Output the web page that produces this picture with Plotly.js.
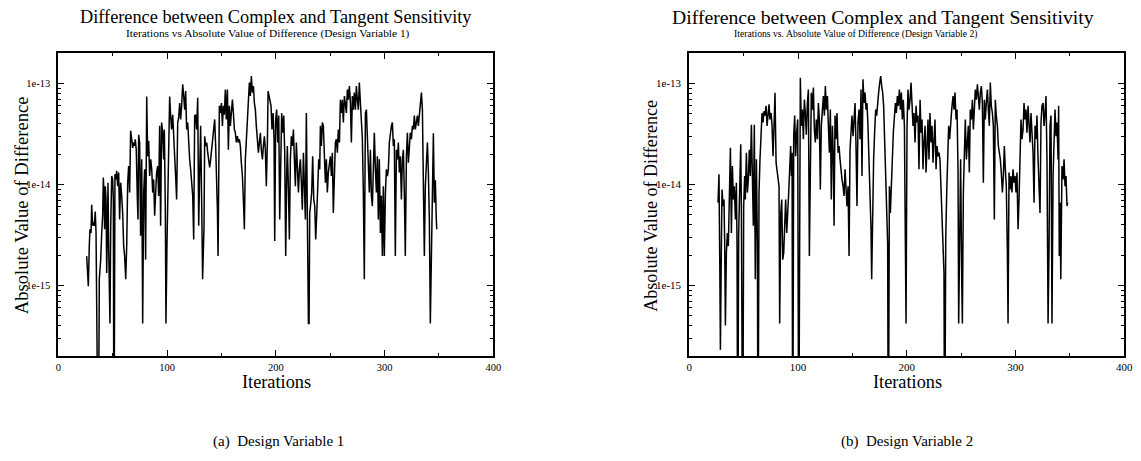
<!DOCTYPE html>
<html><head><meta charset="utf-8">
<script src="https://cdn.plot.ly/plotly-3.0.1.min.js"></script>
<style>html,body{margin:0;padding:0;background:#fff}#chart{width:1141px;height:461px}</style>
</head><body><div id="chart"></div>
<script>
// Design Variable 1: iteration and |complex - tangent| (1e-17 = value below the axis floor, i.e. ~0)
const iterDV1 = [
26.1,26.7,27.6,28.5,29.1,30.1,30.7,31.6,32.2,33.1,
34.0,34.7,35.3,36.0,36.8,37.7,39.0,39.9,40.8,41.4,
42.0,42.6,43.2,43.9,44.5,45.1,45.7,46.3,46.9,47.5,
48.2,49.1,50.0,50.6,51.2,52.1,53.1,53.7,54.6,55.5,
56.4,57.3,58.3,59.2,60.1,61.0,62.0,62.9,63.8,64.7,
65.6,66.5,67.5,68.4,69.0,69.9,70.8,71.7,72.7,73.3,
73.9,74.8,75.7,76.7,77.6,78.5,79.4,80.3,81.3,82.2,
83.1,84.0,85.0,85.9,86.8,87.7,88.6,89.5,90.4,91.4,
92.3,93.2,94.1,95.0,96.0,96.9,97.5,98.4,99.0,100.0,
100.9,101.8,102.4,103.3,104.2,105.2,106.1,107.0,107.9,108.8,
109.8,110.7,111.6,112.5,113.4,114.4,115.3,116.2,117.1,118.0,
119.0,119.9,120.8,121.7,122.6,123.6,124.5,125.4,126.3,127.2,
128.2,129.1,130.0,130.9,131.8,132.7,134.0,134.6,135.5,136.5,
137.4,138.3,139.2,140.1,141.1,142.0,142.9,143.8,144.7,145.7,
146.3,146.9,147.5,148.1,149.0,150.0,150.9,151.8,152.7,153.6,
154.5,155.5,156.4,157.3,158.2,159.1,160.1,161.0,161.9,162.8,
163.7,164.7,165.6,166.5,167.4,168.3,169.3,170.2,171.1,172.0,
173.0,173.9,174.8,175.7,176.6,177.5,178.5,179.4,180.3,181.2,
182.1,183.0,184.0,184.9,185.8,186.7,187.7,188.6,189.5,190.4,
191.3,192.3,192.9,193.8,194.7,195.6,196.5,197.5,198.4,199.0,
199.9,200.8,201.8,202.7,203.6,204.5,205.4,206.4,207.3,208.2,
209.1,210.0,210.6,211.6,212.5,213.4,214.3,215.2,216.2,217.1,
218.0,218.9,219.8,220.8,221.7,222.6,223.5,224.4,225.4,226.3,
227.2,228.1,229.0,230.0,230.6,231.2,232.1,233.0,233.9,234.9,
235.8,236.7,237.6,238.5,239.5,240.4,241.0,241.9,242.8,243.7,
244.7,245.6,246.5,247.4,248.3,249.3,250.2,251.1,252.0,252.9,
253.9,254.8,255.7,256.6,257.5,258.5,259.4,260.3,261.2,262.1,
263.1,264.0,264.9,265.8,266.7,267.7,268.6,269.5,270.4,271.3,
272.2,273.2,274.1,275.0,275.9,276.8,277.8,278.7,279.6,280.5,
281.4,282.4,283.3,284.2,285.1,286.0,287.0,287.9,288.8,289.7,
290.6,291.6,292.5,293.4,294.3,295.2,296.2,297.1,298.0,298.9,
299.8,300.8,301.7,302.6,303.5,304.4,305.3,306.3,307.2,308.1,
309.0,309.9,310.9,311.8,312.7,313.6,314.5,315.5,316.4,317.3,
318.2,319.1,320.1,321.0,321.9,322.8,323.7,324.7,325.6,326.5,
327.4,328.3,329.3,330.2,331.1,332.0,332.9,333.9,334.8,335.7,
336.6,337.5,338.5,339.4,340.3,341.2,342.1,343.1,344.0,344.9,
345.8,346.7,347.6,348.0];
const diffDV1 = [
1.95e-15,1.33e-15,9.8e-16,2.45e-15,3.6e-15,3.3e-15,6.3e-15,3.9e-15,4.2e-15,3.9e-15,
5.4e-15,3.3e-15,1.55e-15,4.2e-16,1e-17,1.15e-15,1.8e-15,3.3e-15,4.9e-15,1.17e-14,
8.3e-15,3.6e-15,9.6e-15,7.1e-15,1.33e-15,3.3e-15,1.04e-14,2.45e-15,1.15e-15,4.2e-16,
3.9e-15,1.21e-14,1.12e-14,7.1e-15,1e-17,1.26e-14,1.12e-14,1.36e-14,9.6e-15,1.31e-14,
4.5e-15,1.04e-14,7.7e-15,5.2e-15,2.45e-15,1.95e-15,1.15e-15,2.45e-15,1.04e-14,1.52e-14,
8.3e-15,3.4e-14,2.8e-14,2.3e-14,2.6e-14,2.4e-14,2.8e-14,2.2e-14,7.1e-15,4.5e-15,
3.1e-14,2.6e-14,3.1e-15,1.77e-14,4.2e-16,8.3e-15,1.41e-14,1.8e-15,7.4e-14,1.9e-14,
2.7e-14,1.21e-14,1.77e-14,1.41e-14,8.3e-15,1.12e-14,4.9e-15,8.9e-15,1.31e-14,1.52e-14,
7.7e-15,3.8e-14,3.9e-15,4.1e-14,3.25e-14,1.77e-14,3.5e-14,6.1e-15,4.2e-16,2.85e-15,
1.21e-14,2.4e-14,7.4e-14,4.8e-14,3.5e-14,4.9e-14,2.6e-14,1.9e-14,1.21e-14,7.1e-15,
4.1e-14,4.6e-14,6.4e-14,4.4e-14,6.0e-14,9.8e-14,7.5e-14,5.5e-14,8.4e-14,3.5e-14,
4.1e-14,2.2e-14,1.77e-14,1.41e-14,9.6e-15,7.7e-15,2.85e-15,4.8e-14,4.9e-14,3.5e-14,
7.2e-14,3.9e-15,1.31e-14,3.8e-14,7.1e-15,1.15e-15,3.9e-15,3.0e-14,2.4e-14,2.6e-14,
2.06e-14,1.77e-14,1.47e-14,1.77e-14,2.2e-14,2.8e-14,3.5e-14,4.4e-14,2.4e-14,1.04e-14,
5.6e-15,1.95e-15,2.06e-14,6.0e-14,5.1e-14,6.4e-14,3.8e-14,6.0e-14,4.9e-14,8.7e-14,
4.4e-14,8.7e-14,2.2e-14,6.0e-14,3.8e-14,5.5e-14,6.9e-14,5.1e-14,3.5e-14,3.25e-14,
2.6e-14,3.0e-14,2.6e-14,2.8e-14,2.4e-14,1.64e-14,1.21e-14,7.1e-15,3.6e-15,1.77e-14,
3.0e-14,5.5e-14,7.5e-14,1.02e-13,7.5e-14,1.18e-13,8.1e-14,9.4e-14,6.4e-14,5.5e-14,
3.8e-14,2.8e-14,2.06e-14,2.6e-14,3.25e-14,2.2e-14,1.77e-14,2.4e-14,3.0e-14,2.2e-14,
9.6e-15,2.8e-14,8.4e-14,7.5e-14,6.4e-14,6.0e-14,3.5e-14,5.1e-14,2.8e-14,2.75e-15,
4.4e-14,5.5e-14,2.6e-14,4.8e-14,4.5e-15,2.6e-14,5.1e-14,3.25e-14,4.8e-14,2.06e-14,
1.95e-15,1.21e-14,2.4e-14,8.9e-15,2.85e-15,1.77e-14,3.0e-14,2.4e-14,3.5e-14,1.77e-14,
9.6e-15,2.6e-14,1.41e-14,8.3e-15,1.41e-14,1.77e-14,1.04e-14,5.6e-15,2.06e-14,7.1e-15,
4.5e-15,5.1e-14,4.5e-15,4.2e-16,4.2e-16,5.2e-15,6.4e-15,8.3e-15,1.9e-14,7.1e-15,
6.1e-15,2.85e-15,4.9e-15,9.6e-15,1.77e-14,1.41e-14,3.8e-14,2.4e-14,4.1e-14,3.8e-14,
1.41e-14,1.04e-14,1.77e-14,8.3e-15,1.31e-14,1.64e-14,1.9e-14,1.21e-14,2.06e-14,5.2e-15,
1.77e-14,2.6e-14,2.8e-14,2.06e-14,3.5e-14,2.6e-14,6.9e-14,5.1e-14,6.9e-14,4.1e-14,
7.5e-14,6.4e-14,5.1e-14,8.7e-14,6.9e-14,9.4e-14,6.4e-14,2.6e-14,7.5e-14,5.5e-14,
8.1e-14,5.5e-14,9.4e-14,6.9e-14,5.5e-14,1.02e-13,6.4e-14,3.8e-14,2.8e-14,8.3e-15,
1.15e-15,5.1e-14,5.5e-14,3.0e-14,1.77e-14,8.3e-15,2.2e-14,7.7e-15,6.1e-15,2.06e-14,
3.25e-14,1.41e-14,8.3e-15,1.9e-14,4.5e-15,1.77e-14,3.3e-15,7.7e-15,1.95e-15,9.6e-15,
1.95e-15,8.3e-15,1.41e-14,1.21e-14,1.41e-14,2.6e-14,3.25e-14,3.8e-14,4.1e-14,2.4e-14,
2.8e-14,1.95e-15,2.2e-14,1.77e-14,2.6e-14,1.31e-14,1.9e-14,7.1e-15,1.77e-14,2.2e-14,
8.3e-15,1.95e-15,1.9e-14,3.25e-14,1.64e-14,2.4e-14,3.25e-14,2.8e-14,3.8e-14,3.5e-14,
4.8e-14,3.5e-14,4.1e-14,4.8e-14,3.8e-14,5.1e-14,6.0e-14,8.1e-14,5.5e-14,5.2e-15,
1.95e-15,9.6e-15,1.52e-14,2.6e-14,1.31e-14,4.5e-15,4.2e-16,1.95e-15,1.41e-14,3.2e-14,
6.6e-15,1.1e-14,4.5e-15,3.6e-15];

// Design Variable 2
const iterDV2 = [
26.4,27.3,28.0,28.6,29.5,30.1,31.0,31.9,32.5,33.2,
34.1,35.0,35.9,36.8,37.8,38.7,39.6,40.5,41.4,42.4,
43.3,43.9,44.5,45.4,46.3,47.3,47.9,48.5,49.1,50.0,
50.9,51.5,52.5,53.4,54.3,55.2,56.1,57.1,58.0,58.9,
59.8,60.7,61.7,62.6,63.2,64.1,65.0,66.0,66.9,67.8,
68.7,69.6,70.6,71.5,72.4,73.3,74.2,75.2,76.1,77.0,
77.9,78.8,79.8,80.7,81.6,82.5,83.1,84.1,85.0,85.9,
86.8,87.7,88.6,89.6,90.5,91.4,92.3,93.2,93.9,94.5,
95.1,96.0,96.9,97.8,98.7,99.7,100.6,101.4,102.1,103.0,
104.0,104.9,105.8,106.7,107.6,108.6,109.5,110.4,111.3,112.2,
113.2,114.1,115.0,115.9,116.8,117.8,118.7,119.6,120.5,121.4,
122.4,123.3,124.2,125.1,126.0,127.0,127.9,128.8,129.7,130.6,
131.6,132.5,133.1,134.0,134.9,135.8,136.8,137.7,138.6,139.5,
140.4,141.4,142.3,143.2,144.1,145.0,146.0,146.9,147.8,148.7,
149.6,150.6,151.5,152.4,153.3,154.2,155.1,156.1,157.0,157.9,
158.8,159.7,160.7,161.6,162.5,163.4,164.3,165.3,166.2,167.1,
167.7,168.6,169.5,170.5,171.4,172.3,173.2,174.1,175.1,176.0,
176.9,177.8,178.7,179.7,180.6,181.5,182.4,183.0,184.0,184.9,
185.8,186.7,187.6,188.6,189.5,190.4,191.3,192.2,193.2,194.1,
195.0,195.9,196.8,197.8,198.7,199.3,200.2,201.1,202.0,203.0,
203.9,204.8,205.7,206.6,207.6,208.5,209.4,210.3,211.2,212.2,
213.1,214.0,214.9,215.8,216.8,217.7,218.6,219.5,220.4,221.3,
222.3,223.2,224.1,225.0,225.9,226.9,227.8,228.7,229.6,230.5,
231.5,232.4,233.3,234.2,234.8,235.8,236.7,237.6,238.5,239.4,
240.4,241.3,242.5,243.4,244.3,245.3,246.2,247.1,247.7,248.6,
249.5,250.5,251.1,252.0,252.9,253.8,254.8,255.7,256.6,257.5,
258.4,259.4,260.3,261.2,262.1,263.0,264.0,264.9,265.8,266.7,
267.6,268.6,269.5,270.4,271.3,272.2,273.1,274.1,275.0,275.9,
276.8,277.7,278.7,279.6,280.5,281.4,282.3,283.3,284.2,285.1,
286.0,286.9,287.9,288.8,289.7,290.6,291.5,292.5,293.1,294.0,
294.9,295.8,296.7,297.7,298.6,299.5,300.4,301.3,302.3,303.2,
304.1,305.0,305.9,306.9,307.8,308.7,309.6,310.5,311.5,312.4,
313.3,314.2,315.1,316.1,317.0,317.9,318.8,319.7,320.7,321.6,
322.5,323.4,324.3,325.3,326.2,327.1,328.0,328.9,329.9,330.8,
331.7,332.6,333.5,334.5,335.4,336.3,337.2,338.1,339.1,339.6,
340.2,340.9,341.6,342.7,343.7,344.6,345.5,346.4,347.3,347.9];
const diffDV2 = [
6.6e-15,1.26e-14,1.8e-15,2.3e-16,2.45e-15,8.9e-15,6.1e-15,7.1e-15,2.85e-15,4.0e-16,
2.1e-15,3.3e-15,2.45e-15,6.1e-15,2.3e-14,3.3e-15,1.52e-14,7.1e-15,9.6e-15,4.5e-15,
1.04e-14,2.45e-15,1e-17,3.3e-15,8.3e-15,2.5e-14,5.6e-15,1.95e-15,1e-17,6.1e-15,
1.21e-14,7.1e-15,2.06e-14,8.3e-15,1.12e-14,2.2e-14,1.21e-14,3.9e-14,1.21e-14,3.9e-15,
3.9e-14,1.15e-15,1.77e-14,2.6e-15,1e-17,8.3e-15,1.77e-14,3.8e-14,5.1e-14,4.1e-14,
5.3e-14,4.8e-14,6.0e-14,3.8e-14,5.5e-14,6.2e-14,4.4e-14,5.1e-14,3.8e-14,1.9e-14,
3.8e-14,8.1e-14,1.64e-14,1.41e-14,1.12e-14,9.6e-15,4.2e-16,5.2e-15,7.1e-15,1.8e-15,
2.1e-15,5.6e-15,7.1e-15,3.3e-15,6.6e-15,8.3e-15,1.41e-14,2.4e-14,1.21e-14,2.06e-14,
1e-17,3.0e-14,4.8e-14,1.9e-14,3.25e-14,4.4e-14,1e-17,3.0e-14,1.14e-13,3.8e-14,
5.5e-14,2.8e-14,6.9e-14,5.1e-14,3.1e-14,6.4e-14,8.7e-14,1.95e-15,2.6e-14,8.1e-14,
5.5e-14,9.1e-14,3.5e-14,2.6e-14,4.4e-14,2.8e-14,6.4e-14,4.4e-14,8.9e-15,3.8e-14,
5.5e-14,7.5e-14,4.8e-14,9.4e-14,5.5e-14,7.5e-14,3.8e-14,2.06e-14,5.5e-14,7.1e-15,
3.8e-14,1.77e-14,3.9e-15,4.8e-14,2.8e-14,5.1e-14,2.06e-14,2.4e-14,1.77e-14,1.31e-14,
1.12e-14,9.6e-15,7.7e-15,1.41e-14,8.9e-15,6.1e-15,9.6e-15,1.95e-15,2.2e-14,3.5e-14,
4.8e-14,3.0e-14,5.1e-14,6.4e-14,2.4e-14,6.1e-15,4.1e-14,5.5e-14,2.8e-14,8.7e-14,
1.21e-14,1.10e-13,6.4e-14,8.1e-14,5.5e-14,6.4e-14,3.8e-14,1.77e-14,7.1e-15,3.6e-15,
1.15e-15,7.1e-15,1.77e-14,3.5e-14,5.5e-14,4.8e-14,6.9e-14,8.1e-14,1.02e-13,1.18e-13,
9.4e-14,8.1e-14,6.0e-14,2.8e-14,1.52e-14,6.1e-15,2.6e-15,1e-17,9.6e-15,5.2e-15,
1.21e-14,1.77e-14,3.25e-14,5.1e-14,6.4e-14,5.1e-14,7.5e-14,6.0e-14,8.7e-14,5.5e-14,
8.1e-14,4.4e-14,6.9e-14,3.8e-14,1.8e-15,4.2e-16,3.8e-14,8.7e-14,5.5e-14,6.9e-14,
1.02e-13,6.0e-14,3.8e-14,5.1e-14,2.6e-14,6.0e-14,4.1e-14,4.8e-14,1.41e-14,6.9e-14,
3.25e-14,4.4e-14,1.41e-14,2.6e-14,3.8e-14,1.31e-14,3.25e-14,4.4e-14,1.77e-14,5.1e-14,
2.6e-14,3.8e-14,1.64e-14,2.8e-14,4.4e-14,1.41e-14,2.4e-14,1.9e-14,2.06e-14,1.77e-14,
9.6e-15,5.2e-15,3.1e-15,1.33e-15,1e-17,2.85e-15,8.3e-15,2.4e-14,3.8e-14,2.8e-14,
4.4e-14,5.5e-14,7.5e-14,5.5e-14,8.1e-14,4.4e-14,5.5e-14,1.41e-14,4.2e-16,5.6e-15,
1.77e-14,1.15e-15,4.2e-16,8.3e-15,2.6e-14,4.4e-14,1.77e-14,3.25e-14,3.8e-14,1.31e-14,
5.5e-14,4.4e-14,6.9e-14,3.5e-14,6.4e-14,8.7e-14,6.9e-14,9.8e-14,7.5e-14,5.5e-14,
8.1e-14,9.4e-14,6.4e-14,1.04e-14,6.9e-14,4.4e-14,6.4e-14,8.7e-14,5.5e-14,3.8e-14,
1.02e-13,6.0e-14,5.1e-14,3.8e-14,4.5e-15,6.9e-14,4.8e-14,3.8e-14,2.4e-14,2.06e-14,
1.77e-14,1.31e-14,8.3e-15,1.21e-14,2.4e-14,1.41e-14,9.6e-15,2.1e-15,4.2e-16,1.31e-14,
8.9e-15,1.21e-14,8.3e-15,1.41e-14,1.04e-14,1.21e-14,8.3e-15,1.31e-14,3.6e-15,7.1e-15,
2.06e-14,4.4e-14,2.8e-14,3.5e-14,6.4e-14,4.4e-14,5.5e-14,3.25e-14,6.0e-14,3.8e-14,
2.6e-14,5.1e-14,3.5e-14,2.06e-14,6.6e-15,3.8e-14,2.8e-14,4.8e-14,1.77e-14,1.12e-14,
5.2e-15,4.1e-14,6.0e-14,6.4e-14,3.8e-14,5.1e-14,7.5e-14,1.77e-14,4.2e-16,2.45e-15,
3.8e-14,4.8e-14,4.2e-16,1.21e-14,2.6e-14,5.5e-14,3.0e-14,4.1e-14,1.77e-14,6.0e-14,
1.95e-15,6.6e-15,1.15e-15,1.52e-14,1.12e-14,1.77e-14,9.6e-15,1.21e-14,6.1e-15,6.6e-15];

const xTickVals = [0, 100, 200, 300, 400];
const xTickText = ['0', '100', '200', '300', '400'];
const xMinorVals = [50, 150, 250, 350];
const yTickVals = [1e-15, 1e-14, 1e-13];
const yTickText = ['1e-15', '1e-14', '1e-13'];
const yMinorVals = [];
[1e-16, 1e-15, 1e-14, 1e-13].forEach(function (d) {
  for (var k = 2; k <= 9; k++) yMinorVals.push(k * d);
});

const titleText = 'Difference between Complex and Tangent Sensitivity';
const subTitle1 = 'Iterations vs Absolute Value of Difference (Design Variable 1)';
const subTitle2 = 'Iterations vs. Absolute Value of Difference (Design Variable 2)';
const yTitle = 'Absolute Value of Difference';
const xTitle = 'Iterations';
const caption1 = '(a)  Design Variable 1';
const caption2 = '(b)  Design Variable 2';

const SERIF = 'Liberation Serif, Times New Roman, serif';
const W = 1141, H = 461;
function px(x) { return x / W; }
function py(y) { return 1 - y / H; }

function xAxis(domain, anchor, fs) {
  return {
    domain: domain, anchor: anchor, range: [0, 400],
    tickmode: 'array', tickvals: xTickVals, ticktext: xTickText,
    ticks: 'inside', ticklen: 6, tickwidth: 1, tickcolor: '#000',
    mirror: 'allticks', showline: true, linewidth: 2, linecolor: '#000',
    showgrid: false, zeroline: false,
    tickfont: { family: SERIF, size: fs, color: '#000' },
    minor: { tickmode: 'array', tickvals: xMinorVals, ticks: 'inside', ticklen: 3, tickwidth: 1, tickcolor: '#000', showgrid: false }
  };
}
function yAxis(domain, anchor, fs) {
  return {
    domain: domain, anchor: anchor, type: 'log',
    range: [Math.log10(2e-16), Math.log10(2e-13)],
    tickmode: 'array', tickvals: yTickVals, ticktext: yTickText,
    ticks: 'inside', ticklen: 6, tickwidth: 1, tickcolor: '#000',
    mirror: 'allticks', showline: true, linewidth: 2, linecolor: '#000',
    showgrid: false, zeroline: false, ticklabelstandoff: 4,
    tickfont: { family: SERIF, size: fs, color: '#000' },
    minor: { tickmode: 'array', tickvals: yMinorVals, ticks: 'inside', ticklen: 3, tickwidth: 1, tickcolor: '#000', showgrid: false }
  };
}

const yDom = [py(356), py(53)];
const layout = {
  width: W, height: H,
  margin: { l: 0, r: 0, t: 0, b: 0 },
  paper_bgcolor: '#fff', plot_bgcolor: '#fff',
  showlegend: false, hovermode: false,
  font: { family: SERIF, color: '#000' },
  xaxis: xAxis([px(58.3), px(493.3)], 'y', 10.5),
  yaxis: yAxis(yDom, 'x', 10.5),
  xaxis2: xAxis([px(689.3), px(1124.3)], 'y2', 11),
  yaxis2: yAxis(yDom, 'x2', 11),
  annotations: [
    { text: titleText, x: px(275.5), y: py(17.5), font: { family: SERIF, size: 18.3 } },
    { text: titleText, x: px(882.5), y: py(17), font: { family: SERIF, size: 19.7 } },
    { text: subTitle1, x: px(267.5), y: py(33.5), font: { family: SERIF, size: 11.4 } },
    { text: subTitle2, x: px(855), y: py(33.5), font: { family: SERIF, size: 9.7 } },
    { text: yTitle, x: px(21.7), y: py(205.5), textangle: -90, font: { family: SERIF, size: 18.6 } },
    { text: yTitle, x: px(651), y: py(205.8), textangle: -90, font: { family: SERIF, size: 18.1 } },
    { text: xTitle, x: px(276.3), y: py(382), font: { family: SERIF, size: 18.3 } },
    { text: xTitle, x: px(907), y: py(382), font: { family: SERIF, size: 18.3 } },
    { text: caption1, x: px(278), y: py(441), font: { family: SERIF, size: 15 } },
    { text: caption2, x: px(907), y: py(441), font: { family: SERIF, size: 15 } }
  ].map(function (a) {
    return Object.assign({ xref: 'paper', yref: 'paper', showarrow: false, xanchor: 'center', yanchor: 'middle', borderpad: 0 }, a);
  })
};

const traces = [
  { type: 'scatter', mode: 'lines', x: iterDV1, y: diffDV1, xaxis: 'x', yaxis: 'y',
    line: { color: '#000', width: 1.5 }, name: 'Design Variable 1' },
  { type: 'scatter', mode: 'lines', x: iterDV2, y: diffDV2, xaxis: 'x2', yaxis: 'y2',
    line: { color: '#000', width: 1.5 }, name: 'Design Variable 2' }
];

Plotly.newPlot('chart', traces, layout, { staticPlot: true, displayModeBar: false });
</script>
</body></html>
